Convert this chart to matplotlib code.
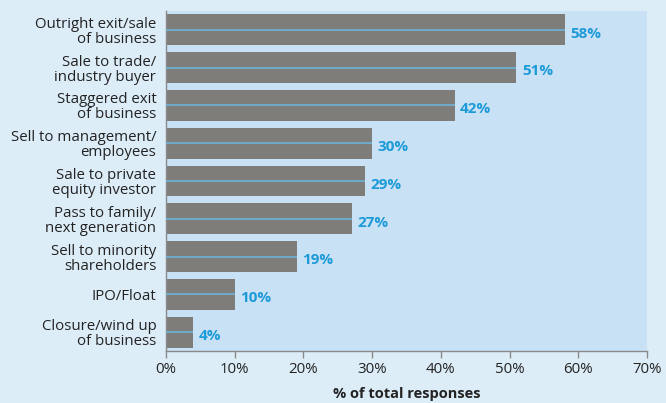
import numpy as np
import matplotlib.pyplot as plt

# survey answers, top to bottom
categories = ['Outright exit/sale\nof business', 'Sale to trade/\nindustry buyer',
              'Staggered exit\nof business', 'Sell to management/\nemployees',
              'Sale to private\nequity investor', 'Pass to family/\nnext generation',
              'Sell to minority\nshareholders', 'IPO/Float',
              'Closure/wind up\nof business']
values = [58, 51, 42, 30, 29, 27, 19, 10, 4]
xticks = [0, 10, 20, 30, 40, 50, 60, 70]

plt.rcParams['font.family'] = ['Open Sans', 'DejaVu Sans']

fig = plt.figure(figsize=(6.66, 4.03), dpi=100, facecolor='#ddedf8')
ax = fig.add_axes([166 / 666, 1 - 351 / 403, 481 / 666, 340 / 403])
ax.set_facecolor('#c9e1f4')

y = np.arange(len(categories))
ax.barh(y, values, height=0.82, color='#7f7d7a', zorder=2)
# thin blue rule through each bar
ax.hlines(y, 0, values, color='#6bb8e2', linewidth=1.1, zorder=3)

for yi, v in zip(y, values):
    ax.text(v + 0.8, yi + 0.1, f'{v}%', va='center', ha='left', color='#1d9ad8',
            fontsize=11, fontweight='bold')

ax.set_ylim(len(categories) - 0.5, -0.5)
ax.set_xlim(0, 70)
ax.set_yticks(y)
ax.set_yticklabels(categories, fontsize=10.8, color='#222222', linespacing=1.0)
ax.tick_params(axis='y', length=0, pad=7)
ax.set_xticks(xticks)
ax.set_xticklabels([f'{t}%' for t in xticks], fontsize=10.8, color='#222222')
ax.tick_params(axis='x', length=5, width=1, color='#8a8a8a', pad=3)

for s in ['top', 'right']:
    ax.spines[s].set_visible(False)
for s in ['left', 'bottom']:
    ax.spines[s].set_color('#8a8a8a')
    ax.spines[s].set_linewidth(1)

ax.set_xlabel('% of total responses', fontsize=10.5, fontweight='bold', color='#222222', labelpad=7)

fig.savefig('out.png', dpi=100, facecolor=fig.get_facecolor())
